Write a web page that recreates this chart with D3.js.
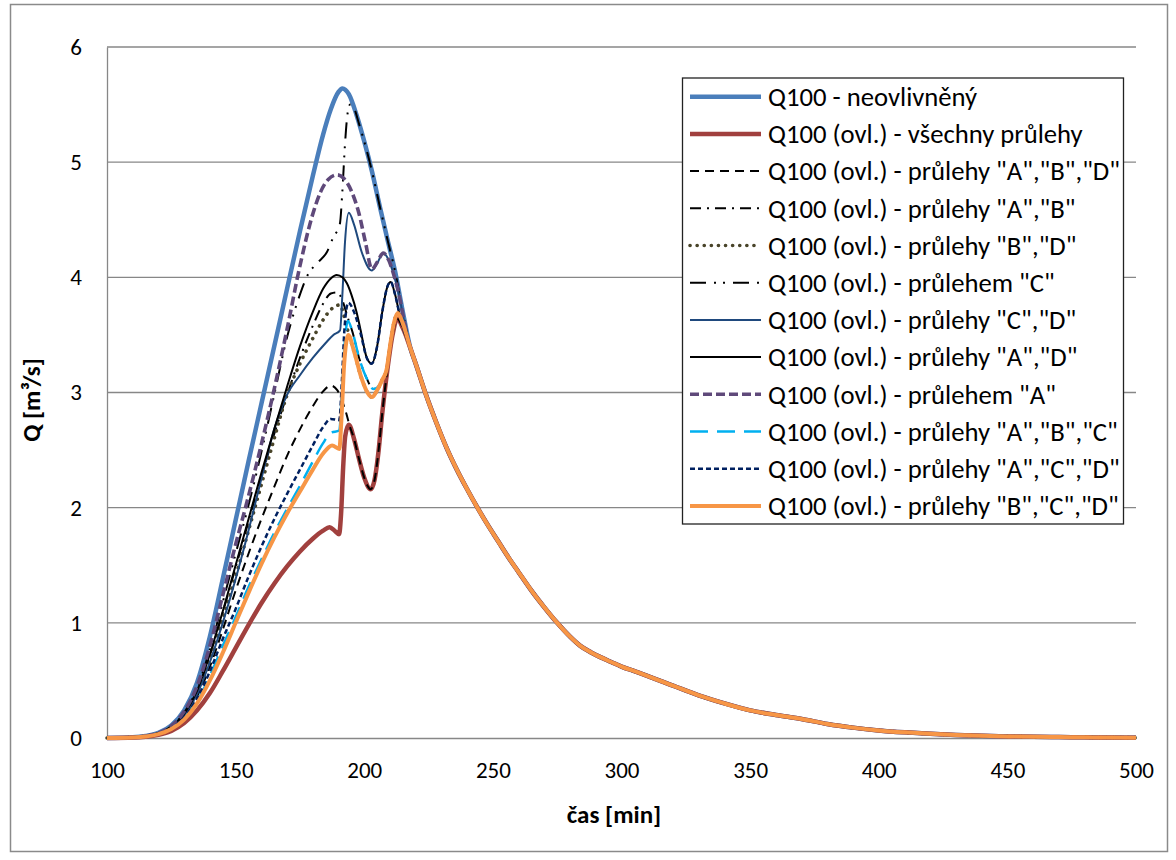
<!DOCTYPE html>
<html>
<head>
<meta charset="utf-8">
<script src="https://cdn.jsdelivr.net/npm/d3@7"></script>
<style>
  html, body { margin: 0; padding: 0; background: #fff; }
  svg { display: block; }
  text { font-family: Carlito, Calibri, Lato, "Liberation Sans", sans-serif; fill: #000; }
</style>
</head>
<body>
<svg id="chart" width="1176" height="860"></svg>
<script>
// Axis ticks
const xTicks = [100, 150, 200, 250, 300, 350, 400, 450, 500];
const yTicks = [0, 1, 2, 3, 4, 5, 6];

// Shared recession limb (all scenarios coincide after the second peak) [time min, Q m3/s]
const recession = [
  [218, 3.38], [220, 3.25], [224, 2.98], [228, 2.74], [232, 2.52], [236, 2.33], [240, 2.16],
  [244, 2.0], [248, 1.85], [252, 1.71], [256, 1.57], [260, 1.44], [265, 1.28], [270, 1.135],
  [275, 1.0], [280, 0.88], [284, 0.8], [288, 0.745], [292, 0.7], [296, 0.66], [300, 0.62],
  [305, 0.58], [310, 0.54], [320, 0.455], [330, 0.37], [340, 0.3], [350, 0.24], [360, 0.2],
  [370, 0.165], [380, 0.122], [390, 0.09], [400, 0.066], [410, 0.049], [420, 0.036], [430, 0.026],
  [440, 0.019], [450, 0.014], [460, 0.01], [470, 0.008], [480, 0.006], [490, 0.004], [500, 0.003]
];

// Rising limb and peaks of each scenario
const qNeovlivneny = [
  [100, 0], [110, 0.006], [115, 0.017], [120, 0.045], [125, 0.11], [130, 0.24], [135, 0.48],
  [140, 0.88], [145, 1.38], [150, 1.89], [155, 2.4], [160, 2.9], [165, 3.4], [170, 3.9],
  [175, 4.4], [180, 4.88], [184, 5.24], [187, 5.46], [190, 5.61], [191.5, 5.64], [194, 5.59],
  [197, 5.41], [200, 5.18], [203, 4.92], [206, 4.62], [209, 4.33], [212, 4.05], [215, 3.7]
];
const qVsechny = [
  [100, 0], [110, 0.004], [115, 0.011], [120, 0.028], [125, 0.062], [130, 0.13], [135, 0.24],
  [140, 0.39], [145, 0.58], [150, 0.78], [155, 0.98], [160, 1.17], [165, 1.34], [170, 1.49],
  [175, 1.62], [180, 1.73], [184, 1.8], [186.5, 1.83], [188.5, 1.8], [190.2, 1.77], [191, 1.95],
  [191.8, 2.35], [192.6, 2.62], [194, 2.72], [196, 2.6], [198, 2.42], [200, 2.26], [202.5, 2.16],
  [204, 2.24], [205.5, 2.48], [207, 2.82], [209, 3.2], [211, 3.5], [212.8, 3.64], [215, 3.56]
];
const qABD = [
  [100, 0], [110, 0.005], [115, 0.014], [120, 0.036], [125, 0.088], [130, 0.19], [135, 0.36],
  [140, 0.62], [145, 0.94], [150, 1.28], [155, 1.6], [160, 1.9], [165, 2.18], [170, 2.45],
  [175, 2.68], [180, 2.88], [184, 3.01], [187, 3.06], [189.5, 3.02], [191.5, 2.92], [193, 2.82],
  [194.2, 2.72], [196, 2.6], [198, 2.42], [200, 2.26], [202.5, 2.16], [204, 2.24], [205.5, 2.48],
  [207, 2.82], [209, 3.2], [211, 3.5], [212.8, 3.64], [215, 3.56]
];
const qAB = [
  [100, 0], [110, 0.006], [115, 0.016], [120, 0.042], [125, 0.1], [130, 0.21], [135, 0.41],
  [140, 0.72], [145, 1.09], [150, 1.48], [155, 1.88], [160, 2.27], [165, 2.64], [170, 2.98],
  [175, 3.3], [180, 3.58], [184, 3.77], [187, 3.86], [189.5, 3.87], [191.5, 3.8], [193.6, 3.65],
  [195.5, 3.52], [198, 3.3], [201, 3.12], [203.5, 3.03], [205.5, 3.05], [207, 3.11], [208.7, 3.2],
  [210, 3.4], [211.5, 3.6], [213, 3.69], [215, 3.6]
];
const qBD = [
  [100, 0], [110, 0.006], [115, 0.016], [120, 0.04], [125, 0.097], [130, 0.2], [135, 0.39],
  [140, 0.68], [145, 1.03], [150, 1.4], [155, 1.8], [160, 2.2], [165, 2.6], [170, 2.98],
  [175, 3.25], [180, 3.47], [184, 3.63], [187, 3.72], [190.5, 3.76], [192.2, 3.66], [193.8, 3.52],
  [196, 3.36], [199, 3.12], [201.5, 2.99], [203, 2.96], [205, 3.02], [207, 3.11], [208.7, 3.2],
  [210, 3.4], [211.5, 3.6], [213, 3.69], [215, 3.6]
];
const qC = [
  [100, 0], [110, 0.006], [115, 0.016], [120, 0.042], [125, 0.1], [130, 0.22], [135, 0.43],
  [140, 0.77], [145, 1.18], [150, 1.6], [155, 2.02], [160, 2.48], [165, 2.98], [170, 3.48],
  [175, 3.85], [178, 4.02], [182, 4.13], [185.5, 4.22], [188, 4.35], [190.5, 4.46], [191.5, 4.75],
  [192.5, 5.15], [193.5, 5.42], [194.5, 5.5], [196, 5.47], [198, 5.33], [200, 5.18], [203, 4.92],
  [206, 4.62], [209, 4.33], [212, 4.05], [215, 3.7]
];
const qCD = [
  [100, 0], [110, 0.006], [115, 0.015], [120, 0.04], [125, 0.095], [130, 0.2], [135, 0.38],
  [140, 0.66], [145, 1.0], [150, 1.38], [155, 1.8], [160, 2.25], [165, 2.68], [170, 2.98],
  [175, 3.15], [180, 3.3], [185, 3.43], [188, 3.5], [190.6, 3.54], [191.5, 3.85], [192.5, 4.3],
  [194, 4.56], [196, 4.46], [199, 4.22], [202.9, 4.06], [205, 4.12], [207.4, 4.21], [209.5, 4.15],
  [211.5, 4.02], [213.5, 3.85], [215.5, 3.62]
];
const qAD = [
  [100, 0], [110, 0.006], [115, 0.016], [120, 0.042], [125, 0.1], [130, 0.21], [135, 0.41],
  [140, 0.73], [145, 1.1], [150, 1.5], [155, 1.9], [160, 2.3], [165, 2.68], [170, 3.05],
  [175, 3.4], [180, 3.7], [184, 3.9], [187, 3.99], [189.3, 4.02], [191.5, 4.0], [193.2, 3.95],
  [195, 3.85], [197, 3.7], [198.5, 3.55], [201, 3.3], [202.9, 3.25], [205, 3.4], [207, 3.7],
  [209, 3.92], [210.3, 3.96], [212, 3.85], [214, 3.65], [216, 3.5]
];
const qA = [
  [100, 0], [110, 0.006], [115, 0.016], [120, 0.043], [125, 0.105], [130, 0.23], [135, 0.45],
  [140, 0.8], [145, 1.24], [150, 1.68], [155, 2.1], [160, 2.55], [165, 3.03], [170, 3.55],
  [175, 4.1], [180, 4.55], [183, 4.74], [186, 4.85], [189.5, 4.89], [192, 4.86], [195, 4.75],
  [198, 4.55], [200.5, 4.3], [203, 4.07], [205, 4.13], [207.4, 4.21], [209.5, 4.15], [211.5, 4.02],
  [213.5, 3.85], [215.5, 3.62]
];
const qABC = [
  [100, 0], [110, 0.005], [115, 0.014], [120, 0.035], [125, 0.082], [130, 0.17], [135, 0.32],
  [140, 0.54], [145, 0.8], [150, 1.05], [155, 1.31], [160, 1.55], [165, 1.78], [170, 1.99],
  [175, 2.19], [180, 2.4], [184, 2.56], [187, 2.65], [190.3, 2.67], [191.3, 3.0], [192.3, 3.4],
  [193.6, 3.62], [195.5, 3.52], [198, 3.3], [201, 3.12], [203.5, 3.03], [205.5, 3.05], [207, 3.11],
  [208.7, 3.2], [210, 3.4], [211.5, 3.6], [213, 3.69], [215, 3.6]
];
const qACD = [
  [100, 0], [110, 0.005], [115, 0.014], [120, 0.036], [125, 0.085], [130, 0.18], [135, 0.34],
  [140, 0.58], [145, 0.86], [150, 1.12], [155, 1.4], [160, 1.66], [165, 1.9], [170, 2.12],
  [175, 2.33], [180, 2.54], [184, 2.7], [187, 2.77], [190.3, 2.76], [191.3, 3.1], [192.3, 3.55],
  [193.8, 3.78], [196, 3.7], [198.5, 3.52], [201, 3.3], [202.9, 3.25], [205, 3.4], [207, 3.7],
  [209, 3.92], [210.3, 3.96], [212, 3.85], [214, 3.65], [216, 3.5]
];
const qBCD = [
  [100, 0], [110, 0.005], [115, 0.013], [120, 0.033], [125, 0.078], [130, 0.16], [135, 0.3],
  [140, 0.5], [145, 0.74], [150, 1.0], [155, 1.26], [160, 1.51], [165, 1.74], [170, 1.95],
  [175, 2.14], [180, 2.33], [184, 2.47], [187.5, 2.54], [190.3, 2.51], [191.2, 2.8], [192.2, 3.25],
  [193.8, 3.5], [196, 3.36], [199, 3.12], [201.5, 2.99], [203, 2.96], [205, 3.02], [207, 3.11],
  [208.7, 3.2], [210, 3.4], [211.5, 3.6], [213, 3.69], [215, 3.6]
];

const seriesNames = [
  'Q100 - neovlivněný',
  'Q100 (ovl.) - všechny průlehy',
  'Q100 (ovl.) - průlehy "A","B","D"',
  'Q100 (ovl.) - průlehy "A","B"',
  'Q100 (ovl.) - průlehy "B","D"',
  'Q100 (ovl.) - průlehem "C"',
  'Q100 (ovl.) - průlehy "C","D"',
  'Q100 (ovl.) - průlehy "A","D"',
  'Q100 (ovl.) - průlehem "A"',
  'Q100 (ovl.) - průlehy "A","B","C"',
  'Q100 (ovl.) - průlehy "A","C","D"',
  'Q100 (ovl.) - průlehy "B","C","D"'
];
const seriesValues = [qNeovlivneny, qVsechny, qABD, qAB, qBD, qC, qCD, qAD, qA, qABC, qACD, qBCD];

// Line styling per series (same order as the names)
const seriesStyles = [
  { color: '#4A7EBB', width: 4.5, dash: null },
  { color: '#A1403E', width: 4.5, dash: null },
  { color: '#000000', width: 2, dash: '9,6' },
  { color: '#000000', width: 2, dash: '11,6,2,6' },
  { color: '#494429', width: 3.6, dash: '0.1,7', cap: 'round' },
  { color: '#000000', width: 2, dash: '16,8,2,7,2,8' },
  { color: '#1F497D', width: 2, dash: null },
  { color: '#000000', width: 2, dash: null },
  { color: '#5F497A', width: 3.6, dash: '9,4' },
  { color: '#00B0F0', width: 2.5, dash: '18,9' },
  { color: '#002060', width: 2.5, dash: '5,3' },
  { color: '#F79646', width: 4, dash: null }
];

const plot = { left: 107, right: 1136, top: 47, bottom: 738 };
const gridColor = '#878787';
const fontStack = 'Carlito, Calibri, Lato, "Liberation Sans", sans-serif';

const svg = d3.select('#chart');

// Chart area frame
svg.append('rect')
  .attr('x', 10.5).attr('y', 4.5)
  .attr('width', 1157).attr('height', 847)
  .attr('fill', '#fff').attr('stroke', '#8a8a8a').attr('stroke-width', 1.5);

const x = d3.scaleLinear().domain([100, 500]).range([plot.left, plot.right]);
const y = d3.scaleLinear().domain([0, 6]).range([plot.bottom, plot.top]);

// Horizontal gridlines
svg.append('g')
  .selectAll('line')
  .data(yTicks.filter(v => v > 0))
  .join('line')
  .attr('x1', plot.left).attr('x2', plot.right)
  .attr('y1', d => y(d)).attr('y2', d => y(d))
  .attr('stroke', gridColor).attr('stroke-width', 1.3);

// Axes
const tickFont = 23;
const yAxis = svg.append('g')
  .attr('transform', `translate(${plot.left},0)`)
  .call(d3.axisLeft(y).tickValues(yTicks).tickSize(0).tickPadding(25).tickFormat(d3.format('d')));
const xAxis = svg.append('g')
  .attr('transform', `translate(0,${plot.bottom})`)
  .call(d3.axisBottom(x).tickValues(xTicks).tickSize(0).tickPadding(24).tickFormat(d3.format('d')));
[yAxis, xAxis].forEach(g => {
  g.select('.domain').attr('stroke', gridColor).attr('stroke-width', 1.3);
  g.selectAll('text')
    .style('font-family', fontStack)
    .style('font-size', tickFont + 'px').attr('fill', '#000');
});

// Axis titles
svg.append('text')
  .attr('x', 614).attr('y', 823)
  .attr('text-anchor', 'middle')
  .style('font-size', '25px').style('font-weight', 'bold')
  .text('čas [min]');
svg.append('text')
  .attr('transform', 'translate(40,400) rotate(-90)')
  .attr('text-anchor', 'middle')
  .style('font-size', '25px').style('font-weight', 'bold')
  .text('Q [m³/s]');

// Series lines
const line = d3.line()
  .x(d => x(d[0]))
  .y(d => y(d[1]))
  .curve(d3.curveMonotoneX);

const plotG = svg.append('g');
seriesValues.forEach((vals, i) => {
  const st = seriesStyles[i];
  const pts = vals.concat(recession);
  const p = plotG.append('path')
    .datum(pts)
    .attr('d', line)
    .attr('fill', 'none')
    .attr('stroke', st.color)
    .attr('stroke-width', st.width)
    .attr('stroke-linejoin', 'round')
    .attr('stroke-linecap', st.cap || 'butt');
  if (st.dash) p.attr('stroke-dasharray', st.dash);
});

// Legend
const legend = { x: 682.5, y: 78, w: 441, h: 446, row0: 96.7, rowStep: 37.2 };
const lg = svg.append('g');
lg.append('rect')
  .attr('x', legend.x).attr('y', legend.y)
  .attr('width', legend.w).attr('height', legend.h)
  .attr('fill', '#fff').attr('stroke', '#222').attr('stroke-width', 1.3);

const rows = lg.selectAll('g.row')
  .data(seriesNames)
  .join('g')
  .attr('class', 'row')
  .attr('transform', (d, i) => `translate(0,${legend.row0 + i * legend.rowStep})`);

rows.append('line')
  .attr('x1', 690).attr('x2', 761)
  .attr('y1', 0).attr('y2', 0)
  .each(function (d, i) {
    const st = seriesStyles[i];
    const l = d3.select(this)
      .attr('stroke', st.color)
      .attr('stroke-width', st.width)
      .attr('stroke-linecap', st.cap || 'butt');
    if (st.dash) l.attr('stroke-dasharray', st.dash);
  });

const labels = rows.append('text')
  .attr('x', 768).attr('y', 0)
  .attr('dy', '0.35em')
  .style('font-size', '21px')
  .text(d => d);

// Fit the longest label to the legend's text column
const widest = d3.max(labels.nodes(), n => n.getComputedTextLength());
const targetWidth = 352;
labels.style('font-size', (21 * targetWidth / widest).toFixed(2) + 'px');
</script>
</body>
</html>
